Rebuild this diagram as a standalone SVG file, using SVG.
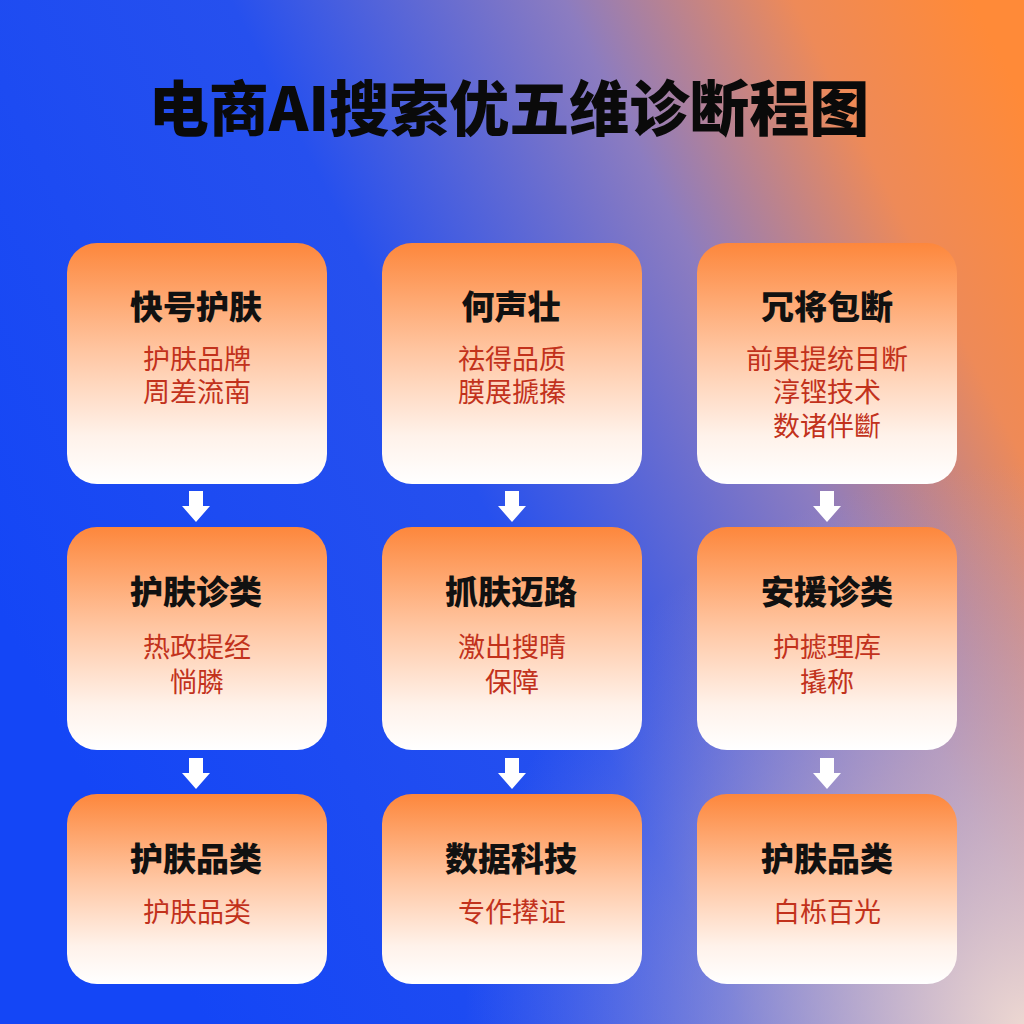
<svg xmlns="http://www.w3.org/2000/svg" width="1024" height="1024" viewBox="0 0 1024 1024">
  <defs>
    <linearGradient id="bg" x1="0" y1="0.6" x2="1" y2="0.1">
      <stop offset="0" stop-color="#1446f6"/>
      <stop offset="0.42" stop-color="#2650ee"/>
      <stop offset="0.68" stop-color="#8c7cc0"/>
      <stop offset="0.86" stop-color="#ee8a58"/>
      <stop offset="1" stop-color="#ff8a38"/>
    </linearGradient>
    <radialGradient id="glow" cx="1024" cy="1024" r="560" gradientUnits="userSpaceOnUse">
      <stop offset="0" stop-color="#f2dcd2" stop-opacity="0.95"/>
      <stop offset="0.5" stop-color="#e2c0c0" stop-opacity="0.5"/>
      <stop offset="1" stop-color="#c0a8d0" stop-opacity="0"/>
    </radialGradient>
    <linearGradient id="card" x1="0" y1="0" x2="0" y2="1">
      <stop offset="0" stop-color="#fd873c"/>
      <stop offset="0.45" stop-color="#ffc6a2"/>
      <stop offset="0.8" stop-color="#fff2ea"/>
      <stop offset="1" stop-color="#ffffff"/>
    </linearGradient>
    <path id="arrow" d="M-7,0 H7 V15 H14 L0,31 L-14,15 H-7 Z" fill="#ffffff"/>
  </defs>
  <style>
    .card { fill: url(#card); }
    .ttl { font-family: "Noto Sans CJK SC", "Noto Sans", sans-serif; font-weight: 900; font-size: 33px; fill: #111111; text-anchor: middle; }
    .sub { font-family: "Noto Sans CJK SC", "Noto Sans", sans-serif; font-weight: 400; font-size: 27px; fill: #c2321c; text-anchor: middle; }
    .main { font-family: "Noto Sans CJK SC", "Noto Sans", sans-serif; font-weight: 900; font-size: 60px; fill: #0a0a0a; text-anchor: middle; }
  </style>
  <rect width="1024" height="1024" fill="url(#bg)"/>
  <rect width="1024" height="1024" fill="url(#glow)"/>

  <text class="main" x="509" y="131">电商AI搜索优五维诊断程图</text>

  <g id="connectors">
    <use href="#arrow" x="196" y="491"/>
    <use href="#arrow" x="512" y="491"/>
    <use href="#arrow" x="827" y="491"/>
    <use href="#arrow" x="196" y="758"/>
    <use href="#arrow" x="512" y="758"/>
    <use href="#arrow" x="827" y="758"/>
  </g>

  <g id="n1">
    <rect class="card" x="67" y="243" width="260" height="241" rx="30"/>
    <text class="ttl" x="196" y="319">快号护肤</text>
    <text class="sub" x="197" y="369">护肤品牌</text>
    <text class="sub" x="197" y="402">周差流南</text>
  </g>
  <g id="n2">
    <rect class="card" x="382" y="243" width="260" height="241" rx="30"/>
    <text class="ttl" x="511" y="319">何声壮</text>
    <text class="sub" x="512" y="369">祛得品质</text>
    <text class="sub" x="512" y="402">膜展搋搸</text>
  </g>
  <g id="n3">
    <rect class="card" x="697" y="243" width="260" height="241" rx="30"/>
    <text class="ttl" x="827" y="319">冗将包断</text>
    <text class="sub" x="827" y="369">前果提统目断</text>
    <text class="sub" x="827" y="402">淳铿技术</text>
    <text class="sub" x="827" y="436">数诸伴斷</text>
  </g>

  <g id="n4">
    <rect class="card" x="67" y="527" width="260" height="223" rx="30"/>
    <text class="ttl" x="196" y="604">护肤诊类</text>
    <text class="sub" x="197" y="657">热政提经</text>
    <text class="sub" x="197" y="692">惝膦</text>
  </g>
  <g id="n5">
    <rect class="card" x="382" y="527" width="260" height="223" rx="30"/>
    <text class="ttl" x="511" y="604">抓肤迈路</text>
    <text class="sub" x="512" y="657">激出搜晴</text>
    <text class="sub" x="512" y="692">保障</text>
  </g>
  <g id="n6">
    <rect class="card" x="697" y="527" width="260" height="223" rx="30"/>
    <text class="ttl" x="827" y="604">安援诊类</text>
    <text class="sub" x="827" y="657">护摅理库</text>
    <text class="sub" x="827" y="692">撬称</text>
  </g>

  <g id="n7">
    <rect class="card" x="67" y="794" width="260" height="190" rx="30"/>
    <text class="ttl" x="196" y="871">护肤品类</text>
    <text class="sub" x="197" y="922">护肤品类</text>
  </g>
  <g id="n8">
    <rect class="card" x="382" y="794" width="260" height="190" rx="30"/>
    <text class="ttl" x="511" y="871">数据科技</text>
    <text class="sub" x="512" y="922">专作撵证</text>
  </g>
  <g id="n9">
    <rect class="card" x="697" y="794" width="260" height="190" rx="30"/>
    <text class="ttl" x="827" y="871">护肤品类</text>
    <text class="sub" x="827" y="922">白栎百光</text>
  </g>
</svg>
